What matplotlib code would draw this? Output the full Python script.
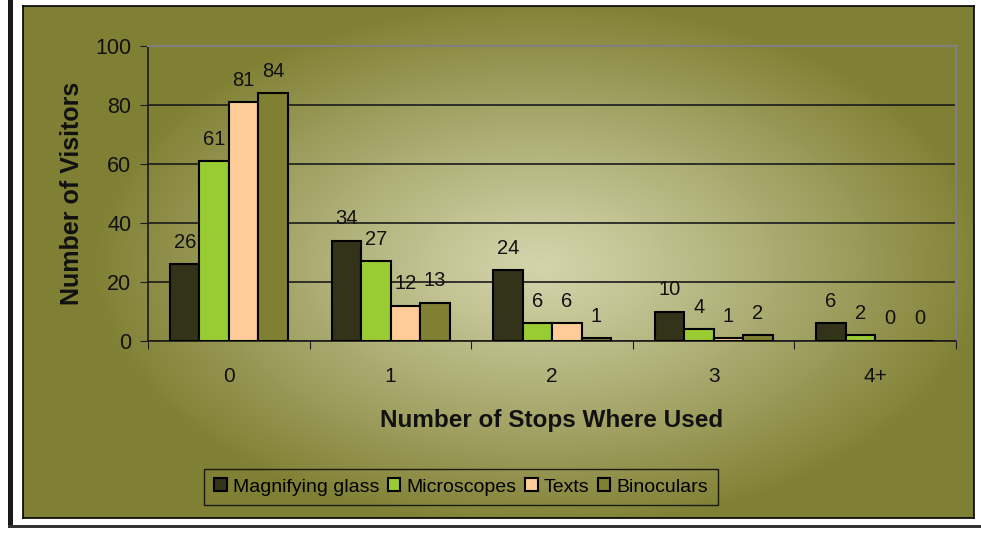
import numpy as np
import matplotlib as mpl
mpl.use('Agg')
import matplotlib.pyplot as plt
from matplotlib.patches import Rectangle

plt.rcParams['font.family'] = ['Liberation Sans', 'DejaVu Sans']

categories = ['0', '1', '2', '3', '4+']
series_names = ['Magnifying glass', 'Microscopes', 'Texts', 'Binoculars']
magnifying = [26, 34, 24, 10, 6]
microscopes = [61, 27, 6, 4, 2]
texts = [81, 12, 6, 1, 0]
binoculars = [84, 13, 1, 2, 0]
series = [magnifying, microscopes, texts, binoculars]
colors = ['#333319', '#99cc33', '#ffcc99', '#808033']

W, H = 981, 534
fig = plt.figure(figsize=(W / 100, H / 100), dpi=100)
fig.patch.set_facecolor('white')

# chart area with radial olive gradient
cx0, cy0, cx1, cy1 = 23, 6, 974, 518
bg = fig.add_axes([cx0 / W, 1 - cy1 / H, (cx1 - cx0) / W, (cy1 - cy0) / H], zorder=0)
xx, yy = np.meshgrid(np.arange(cx0, cx1), np.arange(cy0, cy1))
r = np.sqrt(((xx - 540) / 450.0) ** 2 + ((yy - 265) / 265.0) ** 2)
t = np.clip(r, 0, 1) ** 1.1
c_in = np.array([212, 212, 172]) / 255
c_out = np.array([128, 128, 52]) / 255
img = c_in[None, None, :] * (1 - t[..., None]) + c_out[None, None, :] * t[..., None]
bg.imshow(img, aspect='auto', interpolation='bilinear')
bg.set_xticks([])
bg.set_yticks([])
for s in bg.spines.values():
    s.set_color('black')
    s.set_linewidth(1.2)

# frame lines at left and bottom of the image
fig.add_artist(Rectangle((8 / W, 1 - 527 / H), 5 / W, 527 / H, transform=fig.transFigure,
                         facecolor='#1a1a1a', edgecolor='none', zorder=1))
fig.add_artist(Rectangle((8 / W, 1 - 528 / H), (W - 8) / W, 3 / H, transform=fig.transFigure,
                         facecolor='#333333', edgecolor='none', zorder=1))

# plot area
left, right, top, bottom = 148, 956, 46, 341
ax = fig.add_axes([left / W, 1 - bottom / H, (right - left) / W, (bottom - top) / H], zorder=2)
ax.patch.set_alpha(0)

n = len(categories)
bw = 0.1825
off = 0.136
x = np.arange(n)
for j, (vals, col, name) in enumerate(zip(series, colors, series_names)):
    xs = x + off + (j + 0.5) * bw
    ax.bar(xs, vals, width=bw, color=col, edgecolor='black', linewidth=1.5,
           label=name, zorder=3)
    for xi, v in zip(xs, vals):
        ax.annotate(str(v), (xi, v), xytext=(0, 9), textcoords='offset points',
                    ha='center', va='bottom', fontsize=14.5, color='#111111')

ax.set_xlim(0, n)
ax.set_ylim(0, 100)
ax.set_yticks(range(0, 101, 20))
ax.yaxis.grid(True, color='#1a1a1a', linewidth=1.2)
ax.set_axisbelow(True)
ax.set_xticks(np.arange(0, n + 1))
ax.set_xticklabels([])
ax.set_xticks(x + 0.5, minor=True)
ax.set_xticklabels(categories, minor=True)
ax.tick_params(axis='x', which='minor', length=0, pad=19, labelsize=15, labelcolor='#111111')
ax.tick_params(axis='x', which='major', length=6, direction='out', color='#1a1a1a')
ax.tick_params(axis='y', length=6, direction='out', labelsize=15.5, color='#1a1a1a',
               labelcolor='#111111', pad=6)
for side in ['top', 'right']:
    ax.spines[side].set_color('#808080')
    ax.spines[side].set_linewidth(1.5)
for side in ['left', 'bottom']:
    ax.spines[side].set_color('#1a1a1a')
    ax.spines[side].set_linewidth(1.2)

ax.set_xlabel('Number of Stops Where Used', fontsize=17.5, fontweight='bold', labelpad=16,
              color='#111111')
ax.set_ylabel('Number of Visitors', fontsize=18, fontweight='bold', labelpad=8,
              color='#111111')

leg = fig.legend(loc='center', bbox_to_anchor=(461 / W, 1 - 487 / H), ncol=4,
                 fontsize=14, frameon=True, fancybox=False, edgecolor='black',
                 handlelength=0.65, handleheight=0.65, handletextpad=0.3, columnspacing=0.45,
                 borderpad=0.5)
leg.get_frame().set_facecolor('none')
leg.get_frame().set_linewidth(1.0)

fig.savefig('out.png', dpi=100, facecolor='white')
